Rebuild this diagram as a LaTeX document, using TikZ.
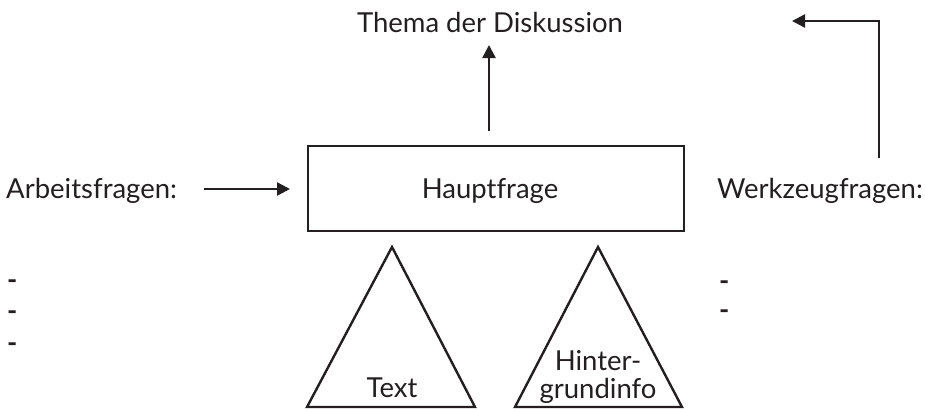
\documentclass[tikz,border=0pt]{standalone}
\usepackage{fontspec}
\setmainfont[Ligatures={NoCommon}]{Lato}
\usetikzlibrary{arrows.meta}
\definecolor{ink}{HTML}{231F20}
\begin{document}
\begin{tikzpicture}[x=1pt,y=-1pt,
  lbl/.style={font=\fontsize{27.5}{30}\selectfont, text=ink, inner sep=0pt},
  line/.style={draw=ink, line width=2.4pt},
  arr/.style={line, -{Triangle[length=13pt,width=13pt]}}]
\useasboundingbox (0,0) rectangle (925,410);
% box
\node[line, minimum width=376pt, minimum height=85pt, inner sep=0pt] (box) at (496,188.5) {};
\node[lbl, anchor=base] (haupt) at (490,198) {Hauptfrage};
% top text
\node[lbl, anchor=base] (thema) at (490,32) {Thema der Diskussion};
% left
\node[lbl, anchor=base west] (arbeit) at (6,198) {Arbeitsfragen:};
\node[lbl, anchor=base west] (d1) at (7,289) {\textbf{-}};
\node[lbl, anchor=base west] (d2) at (7,320) {\textbf{-}};
\node[lbl, anchor=base west] (d3) at (7,352) {\textbf{-}};
% right
\node[lbl, anchor=base west] (werk) at (717,198) {Werkzeugfragen:};
\node[lbl, anchor=base west] (d4) at (719,290) {\textbf{-}};
\node[lbl, anchor=base west] (d5) at (719,319) {\textbf{-}};
% triangles
\draw[line, line join=miter] (307,407) -- (392,247) -- (475,407) -- cycle;
\draw[line, line join=miter] (515,407) -- (598,247) -- (682,407) -- cycle;
\node[lbl, anchor=base] (text) at (392,397) {Text};
\node[lbl, anchor=base] (hint1) at (598,370) {Hinter-};
\node[lbl, anchor=base] (hint2) at (598,398) {grundinfo};
% arrows
\coordinate (upS) at (489,131);
\coordinate (upE) at (489,45);
\draw[arr] (upS) -- (upE);
\coordinate (aS) at (204,189);
\coordinate (aE) at (290,189);
\draw[arr] (aS) -- (aE);
\coordinate (wS) at (879,158);
\coordinate (wC) at (879,21);
\coordinate (wE) at (792,21);
\draw[arr] (wS) -- (wC) -- (wE);
\end{tikzpicture}
\end{document}
